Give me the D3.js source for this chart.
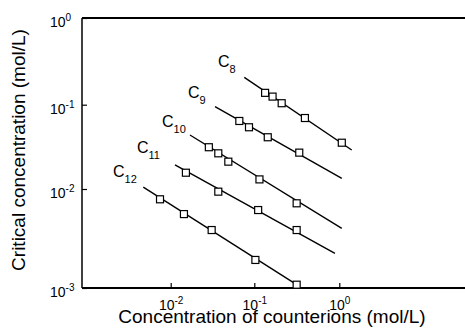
<!DOCTYPE html>
<html>
<head>
<meta charset="utf-8">
<style>
  body { margin: 0; background: #fff; }
  svg text { font-family: "Liberation Sans", Arial, sans-serif; fill: #000; }
</style>
</head>
<body>
<svg width="465" height="335"></svg>
<script src="https://d3js.org/d3.v7.min.js"></script>
<script>
// data (mol/L)
var subs = ["8", "9", "10", "11", "12"];
var pointsX = [
  [0.134, 0.164, 0.21, 0.394, 1.07],
  [0.0662, 0.0864, 0.144, 0.338],
  [0.0286, 0.0371, 0.0489, 0.115, 0.315],
  [0.0152, 0.0371, 0.111, 0.315],
  [0.00745, 0.0144, 0.0309, 0.103, 0.315]
];
var pointsY = [
  [0.137, 0.124, 0.104, 0.0695, 0.0354],
  [0.0641, 0.054, 0.0411, 0.027],
  [0.0313, 0.0265, 0.0211, 0.013, 0.00717],
  [0.0156, 0.0094, 0.00613, 0.00385],
  [0.00787, 0.00558, 0.00385, 0.00192, 0.00108]
];
var fitStartX = [0.0759, 0.0339, 0.0170, 0.01125, 0.0047];
var fitStartY = [0.207, 0.0947, 0.0437, 0.0193, 0.0105];
var fitEndX = [1.40, 1.07, 1.07, 0.889, 0.315];
var fitEndY = [0.029, 0.0134, 0.00401, 0.00224, 0.00108];
var labelX = [0.0368, 0.0161, 0.00787, 0.00395, 0.00204];
var labelY = [0.272, 0.119, 0.0543, 0.0267, 0.0139];
var xTicks = [0.01, 0.1, 1];
var yTicks = [1, 0.1, 0.01, 0.001];
var xDomain = [0.000869, 0.01, 0.1, 1, 30.1];
var yDomain = [0.001, 0.01, 0.1, 1];

var svg = d3.select("svg");

// scanned figure: decades are not quite even, so piecewise log scales
var x = d3.scaleLog().domain(xDomain).range([82, 170.7, 254.3, 339.3, 465]);
var y = d3.scaleLog().domain(yDomain).range([288, 189, 104.7, 18]);

function sup(sel) {
  sel.each(function(d) {
    var t = d3.select(this).text("10");
    t.append("tspan")
      .attr("dy", "-0.55em")
      .attr("font-size", 10)
      .text(Math.round(Math.log10(d)));
  });
}

var gx = svg.append("g")
  .attr("transform", "translate(0,288)")
  .call(d3.axisBottom(x).tickValues(xTicks).tickSizeInner(-5).tickSizeOuter(0).tickPadding(12));
gx.select(".domain").remove();
gx.selectAll("line").attr("stroke", "#000").attr("stroke-width", 1.2);
gx.selectAll("text").attr("font-size", 14).attr("dy", "0.71em").call(sup);

var gy = svg.append("g")
  .attr("transform", "translate(82,0)")
  .call(d3.axisLeft(y).tickValues(yTicks).tickSizeInner(-5).tickSizeOuter(0));
gy.select(".domain").remove();
gy.selectAll("line").attr("stroke", "#000").attr("stroke-width", 1.2);
gy.selectAll("text")
  .attr("font-size", 14)
  .attr("text-anchor", "start")
  .attr("x", -32)
  .attr("dy", "0.6em")
  .call(sup);

// frame: top, left, bottom
svg.append("line").attr("x1", 82).attr("x2", 465).attr("y1", 18).attr("y2", 18)
  .attr("stroke", "#000").attr("stroke-width", 2);
svg.append("line").attr("x1", 82).attr("x2", 82).attr("y1", 18).attr("y2", 288)
  .attr("stroke", "#000").attr("stroke-width", 1.5);
svg.append("line").attr("x1", 82).attr("x2", 465).attr("y1", 288).attr("y2", 288)
  .attr("stroke", "#000").attr("stroke-width", 2);

// fit lines
subs.forEach(function(s, i) {
  svg.append("line")
    .attr("x1", x(fitStartX[i])).attr("y1", y(fitStartY[i]))
    .attr("x2", x(fitEndX[i])).attr("y2", y(fitEndY[i]))
    .attr("stroke", "#000").attr("stroke-width", 1.4);
});

// square markers
subs.forEach(function(s, i) {
  svg.append("g").selectAll("rect")
    .data(pointsX[i].map(function(v, j) { return [v, pointsY[i][j]]; }))
    .enter().append("rect")
    .attr("x", function(d) { return x(d[0]) - 3.5; })
    .attr("y", function(d) { return y(d[1]) - 3.5; })
    .attr("width", 7)
    .attr("height", 7)
    .attr("fill", "#fff")
    .attr("stroke", "#000")
    .attr("stroke-width", 1.2);
});

// series labels C8 ... C12
subs.forEach(function(s, i) {
  var t = svg.append("text")
    .attr("x", x(labelX[i]))
    .attr("y", y(labelY[i]))
    .attr("font-size", 16)
    .text("C");
  t.append("tspan")
    .attr("dy", 6)
    .attr("font-size", 11)
    .text(s);
});

// axis titles
svg.append("text")
  .attr("x", 272)
  .attr("y", 323)
  .attr("text-anchor", "middle")
  .attr("font-size", 19)
  .text("Concentration of counterions (mol/L)");

svg.append("text")
  .attr("transform", "translate(25,150) rotate(-90)")
  .attr("text-anchor", "middle")
  .attr("font-size", 19)
  .text("Critical concentration (mol/L)");
</script>
</body>
</html>
